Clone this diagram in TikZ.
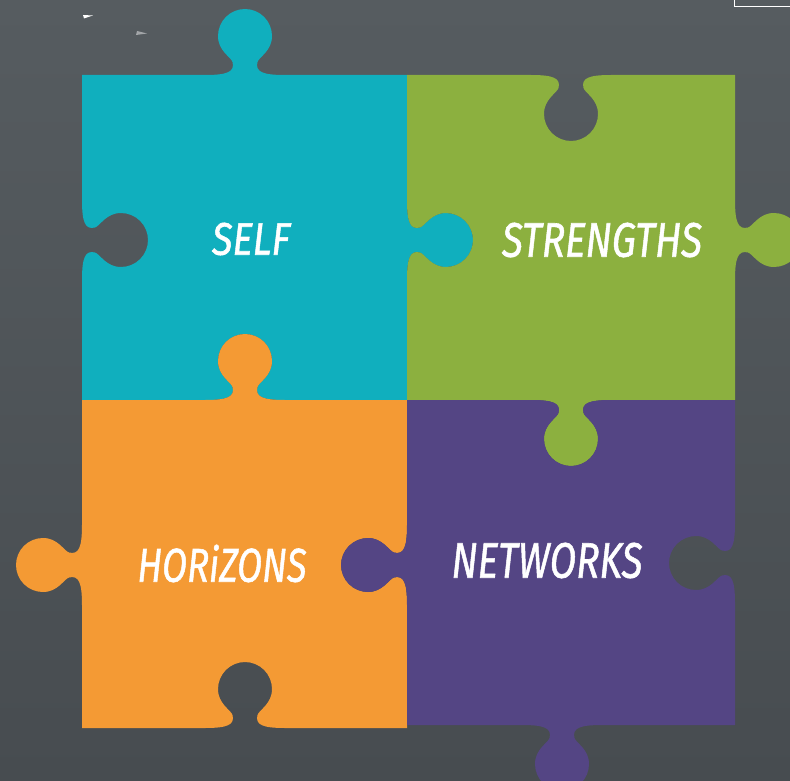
\documentclass[tikz,border=0pt]{standalone}
\usepackage{fontspec}
\setmainfont{Fira Sans}
\usepackage{graphicx}
\definecolor{bgtop}{RGB}{86,92,96}
\definecolor{bgbot}{RGB}{71,76,80}
\definecolor{cteal}{RGB}{16,175,190}
\definecolor{cgreen}{RGB}{140,176,63}
\definecolor{corange}{RGB}{244,154,52}
\definecolor{cpurple}{RGB}{84,69,132}
\newcommand\lblfont{\itshape\addfontfeatures{FakeBold=1.2}}
\tikzset{
  jig/.style n args={6}{insert path={
    -- ({#1-40*(#3)},{#2-40*(#4)})
    .. controls ({#1-18*(#3)},{#2-18*(#4)}) and ({#1-10*(#3)+3*(#5)},{#2-10*(#4)+3*(#6)})
    .. ({#1-12.5*(#3)+13*(#5)},{#2-12.5*(#4)+13*(#6)})
    .. controls ({#1-14*(#3)+18*(#5)},{#2-14*(#4)+18*(#6)}) and ({#1-27*(#3)+24*(#5)},{#2-27*(#4)+24*(#6)})
    .. ({#1-27*(#3)+39*(#5)},{#2-27*(#4)+39*(#6)})
    .. controls ({#1-27*(#3)+53.9*(#5)},{#2-27*(#4)+53.9*(#6)}) and ({#1-14.9*(#3)+66*(#5)},{#2-14.9*(#4)+66*(#6)})
    .. ({#1+66*(#5)},{#2+66*(#6)})
    .. controls ({#1+14.9*(#3)+66*(#5)},{#2+14.9*(#4)+66*(#6)}) and ({#1+27*(#3)+53.9*(#5)},{#2+27*(#4)+53.9*(#6)})
    .. ({#1+27*(#3)+39*(#5)},{#2+27*(#4)+39*(#6)})
    .. controls ({#1+27*(#3)+24*(#5)},{#2+27*(#4)+24*(#6)}) and ({#1+14*(#3)+18*(#5)},{#2+14*(#4)+18*(#6)})
    .. ({#1+12.5*(#3)+13*(#5)},{#2+12.5*(#4)+13*(#6)})
    .. controls ({#1+10*(#3)+3*(#5)},{#2+10*(#4)+3*(#6)}) and ({#1+18*(#3)},{#2+18*(#4)})
    .. ({#1+40*(#3)},{#2+40*(#4)})
  }},
  lbl/.style={inner sep=0pt, text=white, anchor=center}
}
\begin{document}
\begin{tikzpicture}[x=1pt,y=-1pt]
\useasboundingbox (0,0) rectangle (790,781);
\clip (0,0) rectangle (790,781);
\shade[top color=bgtop,bottom color=bgbot] (0,0) rectangle (790,781);
% pieces
\fill[cteal] (82,75) [jig={245}{75}{1}{0}{0}{-1}] -- (407,75)
  [jig={407}{240}{0}{1}{1}{0}] -- (407,400)
  [jig={245}{400}{-1}{0}{0}{-1}] -- (82,400)
  [jig={82}{240}{0}{-1}{1}{0}] -- cycle;
\fill[cgreen] (407,75) [jig={571}{75}{1}{0}{0}{1}] -- (735,75)
  [jig={735}{240}{0}{1}{1}{0}] -- (735,400)
  [jig={571}{400}{-1}{0}{0}{1}] -- (407,400)
  [jig={407}{240}{0}{-1}{1}{0}] -- cycle;
\fill[corange] (82,400) [jig={245}{400}{1}{0}{0}{-1}] -- (407,400)
  [jig={407}{565}{0}{1}{-1}{0}] -- (407,728)
  [jig={245}{728}{-1}{0}{0}{-1}] -- (82,728)
  [jig={82}{565}{0}{-1}{-1}{0}] -- cycle;
\fill[cpurple] (407,400) [jig={571}{400}{1}{0}{0}{1}] -- (735,400)
  [jig={735}{563}{0}{1}{-1}{0}] -- (735,725)
  [jig={562}{725}{-1}{0}{0}{1}] -- (407,725)
  [jig={407}{565}{0}{-1}{-1}{0}] -- cycle;
% small marks
\draw[white, line width=1.4pt] (734.5,-3) rectangle (795,6.5);
\fill[white] (83,15) -- (93,15.5) -- (84,18.5) -- cycle;
\fill[white!45!bgtop] (137,31) -- (147,33.5) -- (136,35) -- cycle;
% labels
\node[lbl] (self) at (251,239) {\resizebox{78pt}{32pt}{\lblfont SELF}};
\node[lbl] (strengths) at (602,240) {\resizebox{200pt}{34pt}{\lblfont STRENGTHS}};
\node[lbl] (horizons) at (222,563.5) {\resizebox{169pt}{37pt}{\lblfont HORiZONS}};
\node[lbl] (networks) at (547,560.5) {\resizebox{191pt}{35pt}{\lblfont NETWORKS}};
\end{tikzpicture}
\end{document}
